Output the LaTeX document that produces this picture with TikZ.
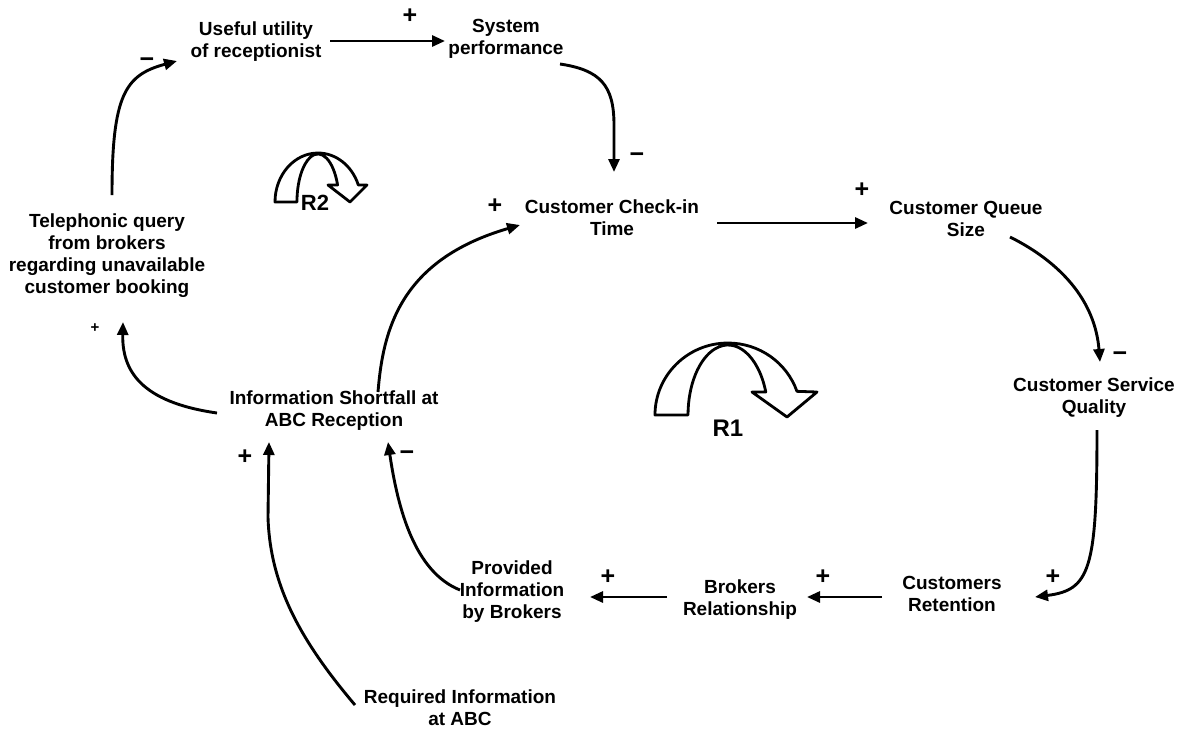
\documentclass[tikz,border=0pt]{standalone}
\usepackage{fontspec}
\setmainfont{Liberation Sans}
\usetikzlibrary{arrows.meta,calc}
\begin{document}
\begin{tikzpicture}[x=1pt,y=-1pt,
  var/.style={font=\fontsize{19}{22}\selectfont\bfseries, align=center, inner sep=0pt},
  link/.style={line width=2.9pt, -{Triangle[length=13pt,width=11pt]}},
  pol/.style={font=\fontsize{25}{25}\selectfont\bfseries, inner sep=0pt},
  smallpol/.style={font=\fontsize{15}{15}\selectfont\bfseries, inner sep=0pt},
  loopsym/.style={line width=2.8pt, fill=white, line join=round},
  looplabel/.style={font=\fontsize{24}{24}\selectfont\bfseries, inner sep=0pt}]
\useasboundingbox (0,0) rectangle (1187,729);

% variables
\node[var] (util)      at (256,42)  {Useful utility\\of receptionist};
\node[var] (perf)      at (506,39)  {System\\performance};
\node[var] (check)     at (612,218) {Customer Check-in\\Time};
\node[var] (queue)     at (966,219) {Customer Queue\\Size};
\node[var] (quality)   at (1094,398) {Customer Service\\Quality};
\node[var] (retention) at (952,594) {Customers\\Retention};
\node[var] (brokers)   at (740,600) {Brokers\\Relationship};
\node[var] (provided)  at (512,592) {Provided\\Information\\by Brokers};
\node[var] (shortfall) at (334,411) {Information Shortfall at\\ABC Reception};
\node[var] (required)  at (460,708) {Required Information\\at ABC};
\node[var] (phone)     at (107,256) {Telephonic query\\from brokers\\regarding unavailable\\customer booking};

% causal links
\draw[link] ($(util)+(74,-1)$) -- ($(perf)+(-61,2)$);
\draw[link] ($(perf)+(54,25)$) .. controls (600,70) and (614,85) .. (614,125)
            -- ($(check)+(2,-46)$);
\draw[link] ($(shortfall)+(44,-19)$) .. controls (383,330) and (400,260) .. ($(check)+(-92,7)$);
\draw[link] ($(check)+(105,5)$) -- ($(queue)+(-98,4)$);
\draw[link] ($(queue)+(44,18)$) .. controls (1060,262) and (1095,300) .. ($(quality)+(6,-36)$);
\draw[link] ($(quality)+(3,32)$) .. controls (1097,570) and (1090,590) .. ($(retention)+(83,3)$);
\draw[link] ($(retention)+(-70,3)$) -- ($(brokers)+(67,-3)$);
\draw[link] ($(brokers)+(-73,-3)$) -- ($(provided)+(78,5)$);
\draw[link] ($(provided)+(-52,-2)$) .. controls (415,572) and (398,510) .. ($(shortfall)+(54,31)$);
\draw[link] ($(required)+(-105,-3)$) .. controls (300,640) and (270,585) .. (268,517)
            -- ($(shortfall)+(-65,31)$);
\draw[link] ($(shortfall)+(-117,2)$) .. controls (140,402) and (122,370) .. ($(phone)+(16,66)$);
\draw[link] ($(phone)+(5,-61)$) .. controls (112,95) and (125,75) .. ($(util)+(-79,19)$);

% polarities
\node[pol] (s1)  at (410,16)  {+};
\node[pol] (s2)  at (637,158) {−};
\node[pol] (s3)  at (495,206) {+};
\node[pol] (s4)  at (862,190) {+};
\node[pol] (s5)  at (1120,357) {−};
\node[pol] (s6)  at (1053,577) {+};
\node[pol] (s7)  at (823,577) {+};
\node[pol] (s8)  at (608,577) {+};
\node[pol] (s9)  at (407,456) {−};
\node[pol] (s10) at (245,457) {+};
\node[smallpol] (s11) at (95,328) {+};
\node[pol] (s12) at (147,63)  {−};

% loop R2
\draw[loopsym] (275,202) arc[start angle=180, end angle=20.3, x radius=43pt, y radius=49pt]
  -- (367,185) -- (350,202) -- (328,185) -- (337.6,185)
  arc[start angle=20.7, end angle=180, x radius=21pt, y radius=48pt] -- cycle;
\node[looplabel, font=\fontsize{22}{22}\selectfont\bfseries] (r2) at (315,203) {R2};

% loop R1
\draw[loopsym] (655,415) arc[start angle=180, end angle=19.2, x radius=73pt, y radius=72pt]
  -- (817,392) -- (787,417) -- (752,392) -- (765.8,392)
  arc[start angle=19.2, end angle=180, x radius=40pt, y radius=70pt] -- cycle;
\node[looplabel] (r1) at (728,428) {R1};
\end{tikzpicture}
\end{document}
